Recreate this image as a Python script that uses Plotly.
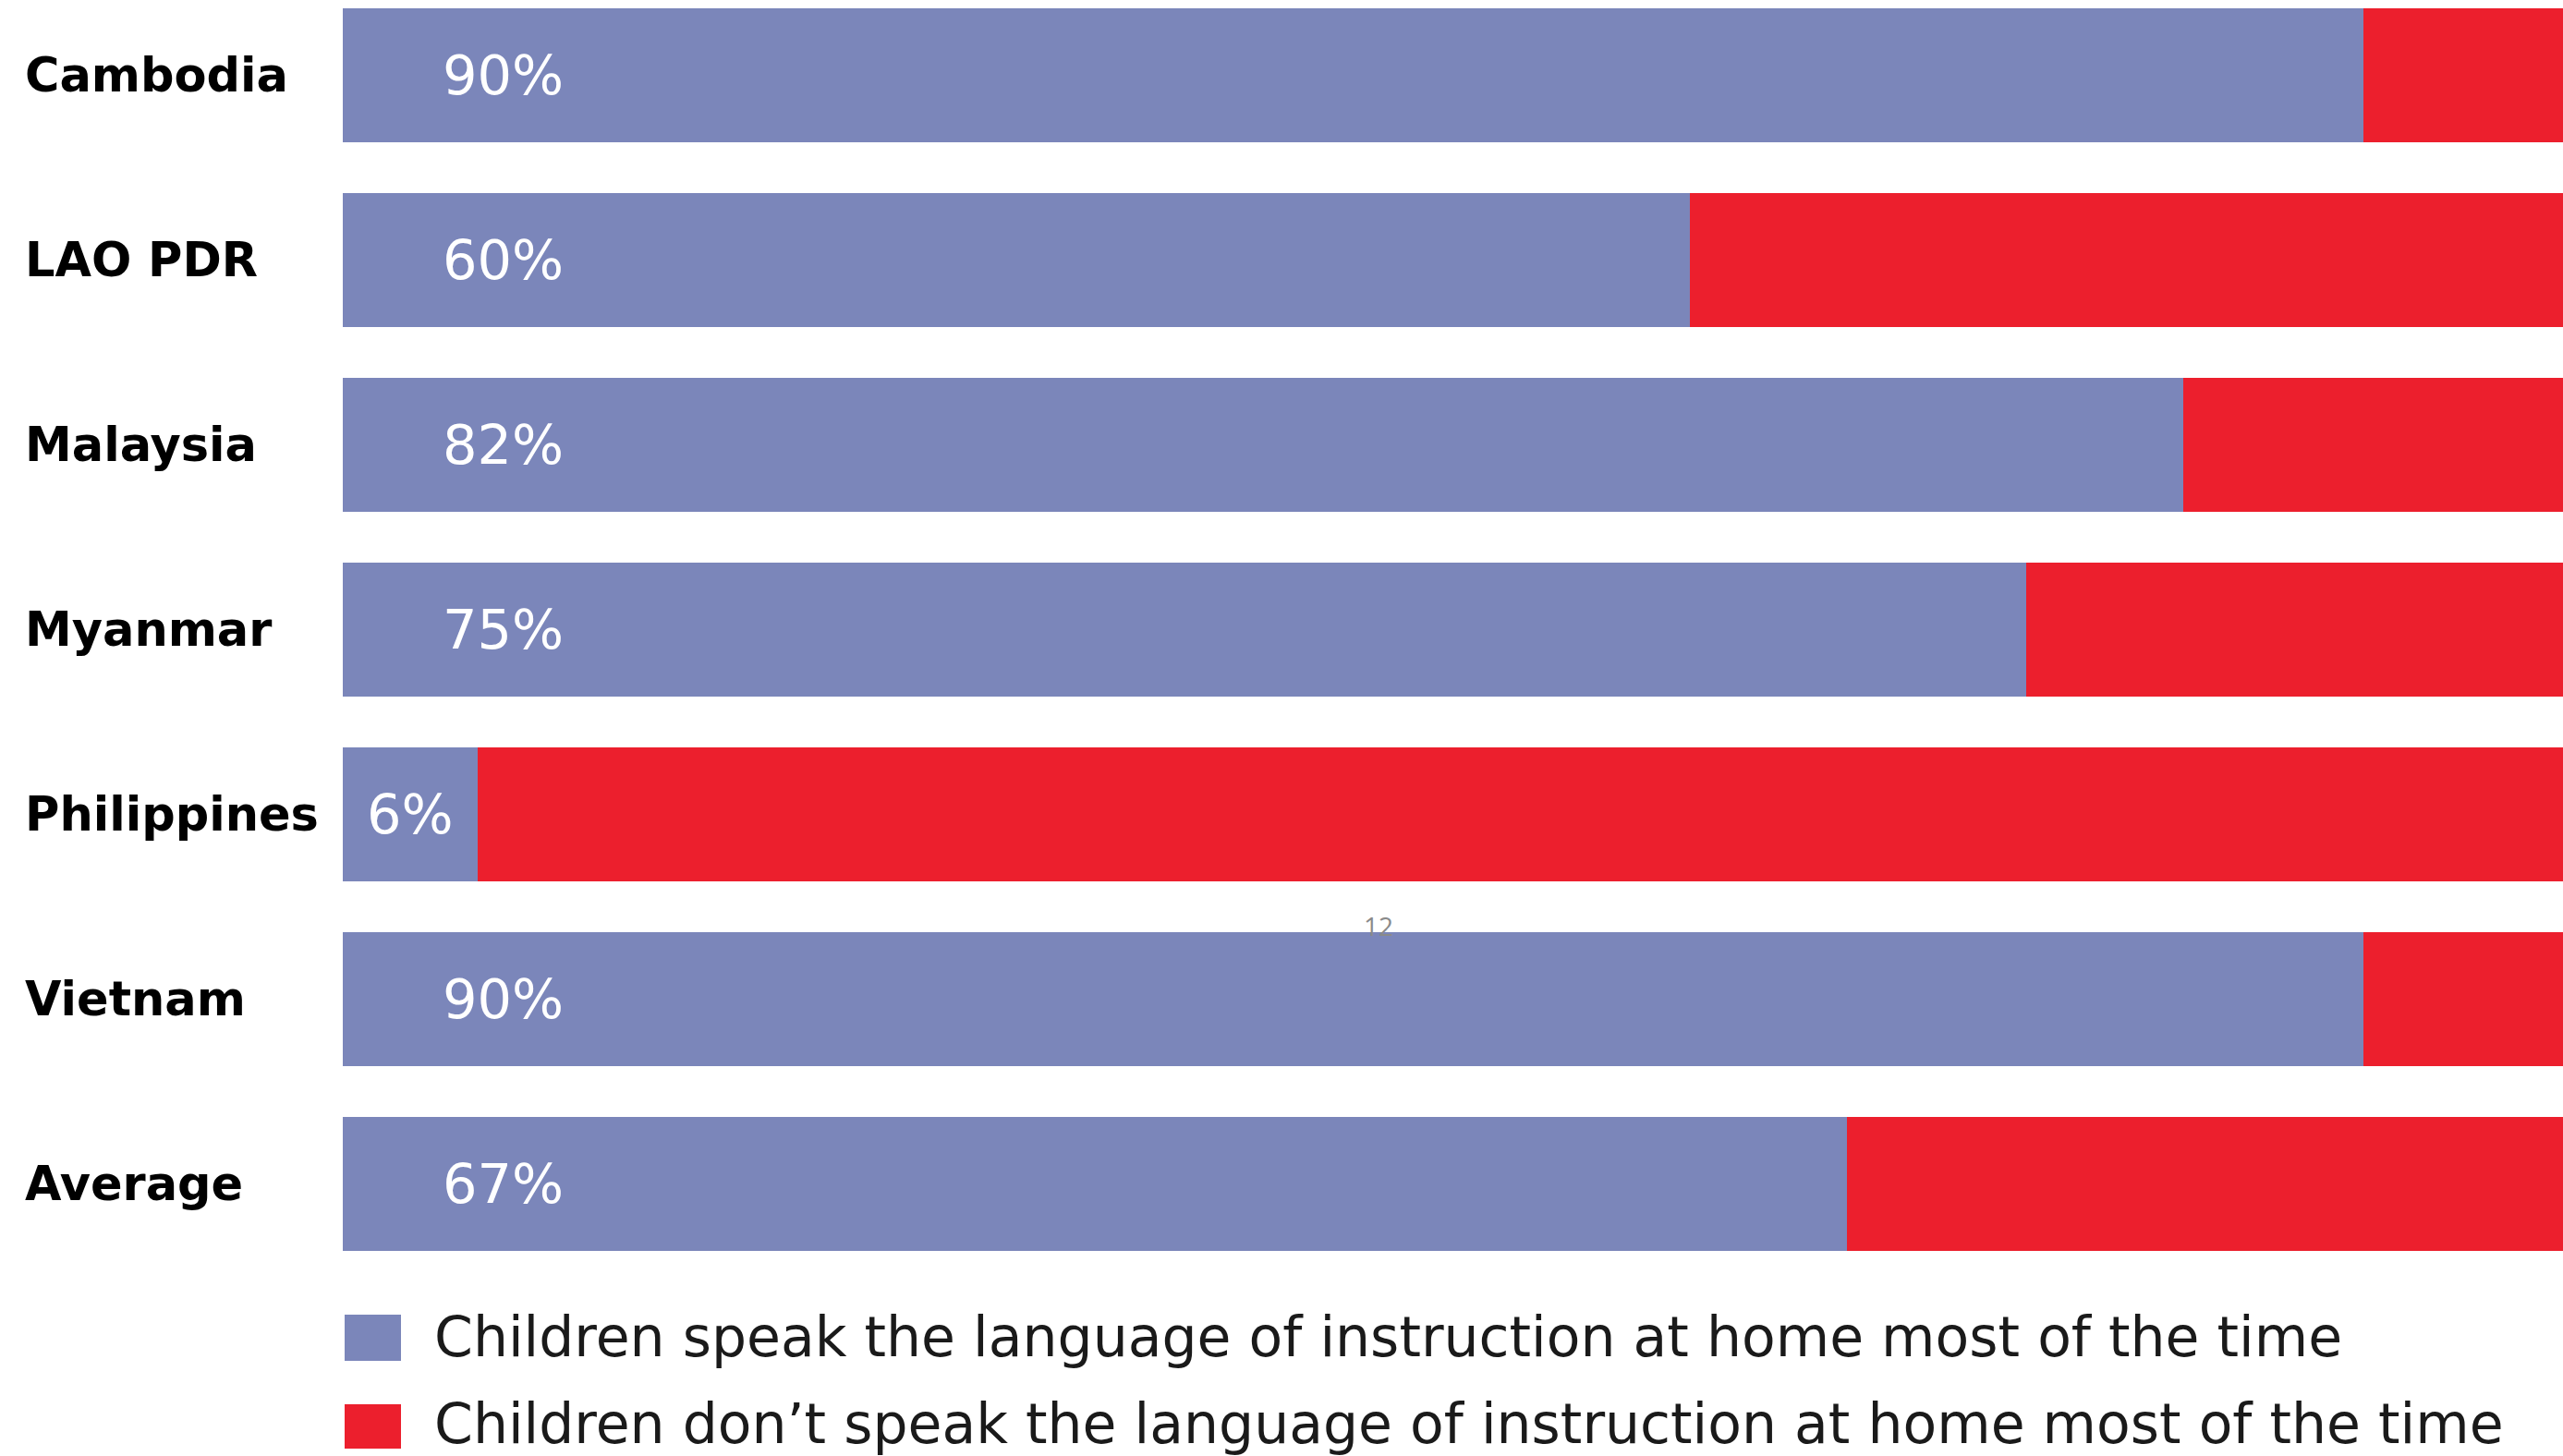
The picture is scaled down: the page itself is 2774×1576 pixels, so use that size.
import plotly.graph_objects as go

# Share of children by home language vs. language of instruction
countries = ["Cambodia", "LAO PDR", "Malaysia", "Myanmar", "Philippines", "Vietnam", "Average"]
speak_pct = [90, 60, 82, 75, 6, 90, 67]
not_speak_pct = [100 - v for v in speak_pct]

series_names = [
    "Children speak the language of instruction at home most of the time",
    "Children don\u2019t speak the language of instruction at home most of the time",
]
series_colors = ["#7B86BA", "#EC1F2D"]

W, H = 2774, 1576
PLOT_LEFT = 371
PLOT_BOTTOM = 1381


def py(px):
    """Pixel row (from the top of the page) -> paper y of the plot area."""
    return 1 - px / PLOT_BOTTOM


fig = go.Figure()
fig.add_trace(go.Bar(
    y=countries, x=speak_pct, orientation="h", name=series_names[0],
    marker=dict(color=series_colors[0], line=dict(width=0)),
    hoverinfo="x+y",
))
fig.add_trace(go.Bar(
    y=countries, x=not_speak_pct, orientation="h", name=series_names[1],
    marker=dict(color=series_colors[1], line=dict(width=0)),
    hoverinfo="x+y",
))

annotations = []
# country names, left aligned in the left margin
for c in countries:
    annotations.append(dict(
        x=25 / W, xref="paper", y=c, yref="y", text=c, showarrow=False,
        xanchor="left", yanchor="middle",
        font=dict(family="DejaVu Sans", size=51, color="#000000", weight="bold"),
    ))
# percentage labels inside the blue bars
for c, v in zip(countries, speak_pct):
    annotations.append(dict(
        x=min(7.16, v / 2), xref="x", y=c, yref="y", text=f"{v}%",
        showarrow=False, xanchor="center", yanchor="middle",
        font=dict(family="DejaVu Sans", size=59, color="#FFFFFF"),
    ))

# legend drawn below the bars
legend_rows = [(1423, 1473), (1520, 1568)]
legend_text_y = [1447, 1541]
shapes = []
for (y0, y1), ty, name, col in zip(legend_rows, legend_text_y, series_names, series_colors):
    shapes.append(dict(
        type="rect", xref="paper", yref="paper",
        x0=373 / W, x1=434 / W, y0=py(y1), y1=py(y0),
        fillcolor=col, line=dict(width=0),
    ))
    annotations.append(dict(
        x=469 / W, xref="paper", y=py(ty), yref="paper",
        text=name, showarrow=False, xanchor="left", yanchor="middle",
        borderpad=0,
        font=dict(family="DejaVu Sans", size=60, color="#1A1A1A"),
    ))

# slide page number
annotations.append(dict(
    x=1492 / W, xref="paper", y=py(1002), yref="paper", text="12",
    showarrow=False, xanchor="center", yanchor="middle",
    font=dict(family="Open Sans", size=28, color="#8A8A8A"),
))

fig.update_layout(
    width=W, height=H,
    margin=dict(l=0, r=0, t=0, b=H - PLOT_BOTTOM, pad=0),
    paper_bgcolor="#FFFFFF", plot_bgcolor="#FFFFFF",
    barmode="stack", bargap=0.275, showlegend=False,
    xaxis=dict(domain=[PLOT_LEFT / W, 1], range=[0, 98.9], visible=False, fixedrange=True),
    yaxis=dict(type="category", range=[6.5, -0.405], visible=False, fixedrange=True),
    annotations=annotations, shapes=shapes,
)

fig.write_html("out.html")
